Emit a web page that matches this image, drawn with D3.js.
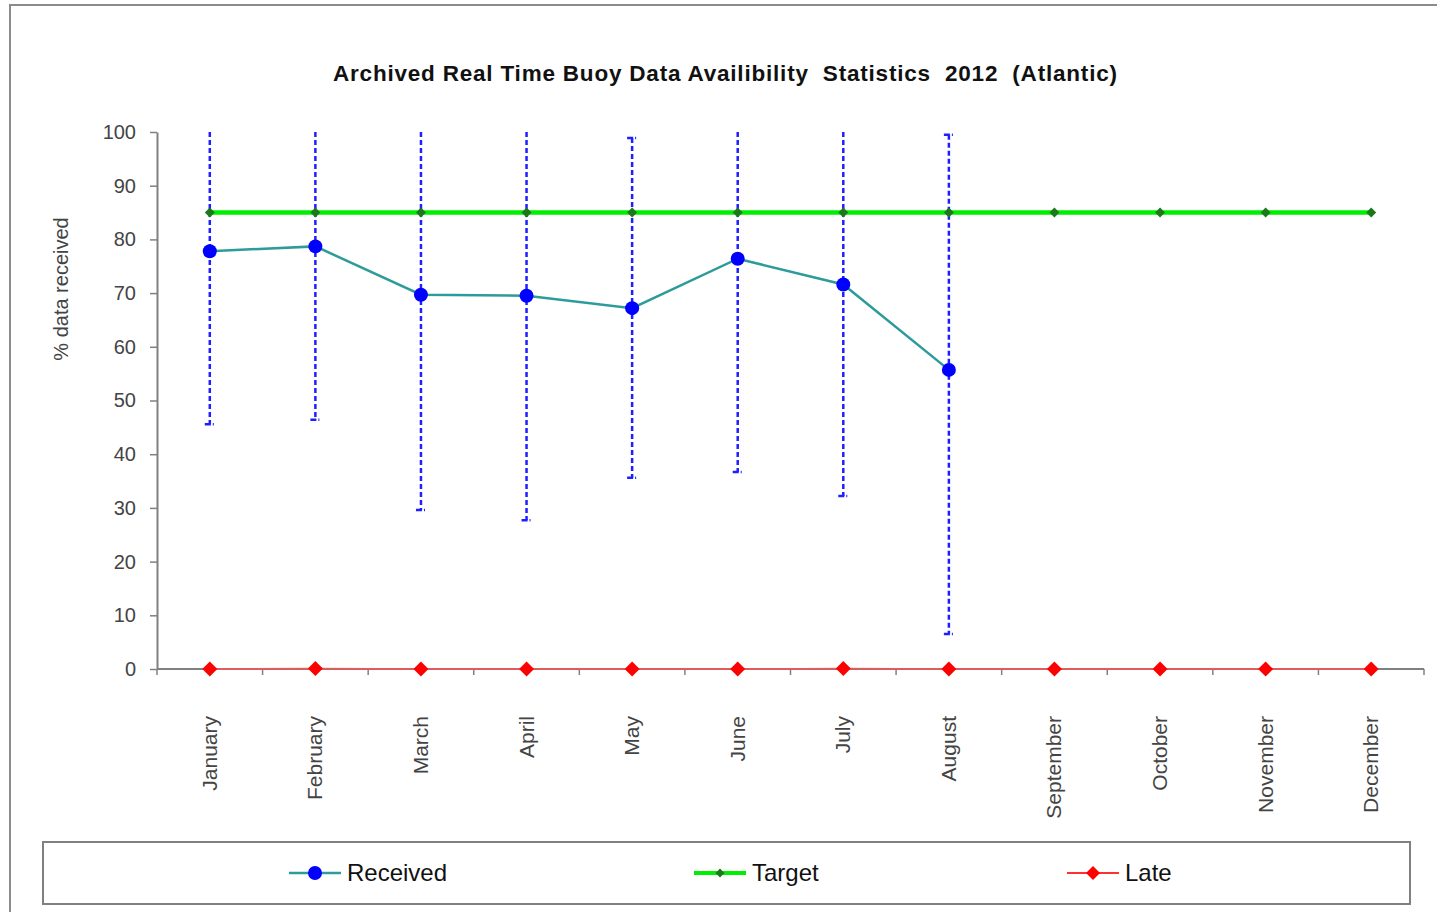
<!DOCTYPE html>
<html>
<head>
<meta charset="utf-8">
<script src="https://cdn.jsdelivr.net/npm/d3@7"></script>
<style>
  body { margin: 0; background: #fff; }
  svg { display: block; font-family: "Liberation Sans", Arial, sans-serif; }
</style>
</head>
<body>
<svg id="chart" width="1437" height="912"></svg>
<script>
const months = ['January', 'February', 'March', 'April', 'May', 'June',
    'July', 'August', 'September', 'October', 'November', 'December'];
const received = [77.8, 78.7, 69.7, 69.5, 67.2, 76.4, 71.6, 55.7];
const receivedMax = [100, 100, 100, 100, 98.9, 100, 100, 99.5];
const receivedMin = [45.6, 46.4, 29.6, 27.7, 35.6, 36.7, 32.2, 6.5];
const target = [85, 85, 85, 85, 85, 85, 85, 85, 85, 85, 85, 85];
const late = [0, 0.1, 0, 0, 0, 0, 0.1, 0, 0, 0, 0, 0];
const yTicks = [0, 10, 20, 30, 40, 50, 60, 70, 80, 90, 100];

const svg = d3.select('#chart');

// square diamond, r = half width
const diamondPath = r => `M0,${-r}L${r},0L0,${r}L${-r},0Z`;

// outer chart frame
svg.append('rect')
    .attr('x', 10).attr('y', 5)
    .attr('width', 1440).attr('height', 930)
    .attr('fill', 'none')
    .attr('stroke', '#8c8c8c')
    .attr('stroke-width', 2);

const plot = { left: 157, right: 1424, top: 132, bottom: 669 };

const x = d3.scaleBand()
    .domain(months)
    .range([plot.left, plot.right]);

const y = d3.scaleLinear()
    .domain([0, 100])
    .range([plot.bottom, plot.top]);

const cx = m => x(m) + x.bandwidth() / 2;

svg.append('text')
    .attr('x', 725).attr('y', 81)
    .attr('text-anchor', 'middle')
    .attr('font-size', 22.5)
    .attr('font-weight', 'bold')
    .attr('fill', '#111')
    .attr('textLength', 784)
    .attr('lengthAdjust', 'spacing')
    .style('white-space', 'pre')
    .text('Archived Real Time Buoy Data Availibility  Statistics  2012  (Atlantic)');

// y axis
const yAxis = svg.append('g')
    .attr('transform', `translate(${plot.left},0)`)
    .call(d3.axisLeft(y).tickValues(yTicks).tickSize(7).tickPadding(14).tickSizeOuter(0));
yAxis.select('.domain').attr('stroke', '#808080').attr('stroke-width', 2);
yAxis.selectAll('.tick line').attr('stroke', '#808080').attr('stroke-width', 1.5);
yAxis.selectAll('.tick text')
    .attr('font-size', 20)
    .attr('fill', '#444')
    .attr('font-family', '"Liberation Sans", Arial, sans-serif');

svg.append('text')
    .attr('transform', 'translate(68,289) rotate(-90)')
    .attr('text-anchor', 'middle')
    .attr('font-size', 20)
    .attr('fill', '#444')
    .text('% data received');

// x axis with ticks at band boundaries
const xAxisG = svg.append('g');
xAxisG.append('line')
    .attr('x1', plot.left).attr('x2', plot.right)
    .attr('y1', plot.bottom).attr('y2', plot.bottom)
    .attr('stroke', '#808080').attr('stroke-width', 2);
const bounds = months.map(m => x(m)).concat([plot.right]);
xAxisG.selectAll('line.tk')
    .data(bounds)
    .enter().append('line')
    .attr('class', 'tk')
    .attr('x1', d => d).attr('x2', d => d)
    .attr('y1', plot.bottom).attr('y2', plot.bottom + 6)
    .attr('stroke', '#808080').attr('stroke-width', 1.5);
xAxisG.selectAll('text')
    .data(months)
    .enter().append('text')
    .attr('transform', d => `translate(${cx(d) + 7},716) rotate(-90)`)
    .attr('text-anchor', 'end')
    .attr('font-size', 21)
    .attr('fill', '#444')
    .text(d => d);

// error bars
const errData = received.map((v, i) => ({ m: months[i], lo: receivedMin[i], hi: receivedMax[i] }));
const err = svg.append('g').attr('stroke', '#1f1fff').attr('stroke-width', 2.5)
    .attr('stroke-dasharray', '5,3');
err.selectAll('line.bar')
    .data(errData)
    .enter().append('line')
    .attr('x1', d => cx(d.m)).attr('x2', d => cx(d.m))
    .attr('y1', d => y(d.hi)).attr('y2', d => y(d.lo));
err.selectAll('line.lo')
    .data(errData)
    .enter().append('line')
    .attr('stroke-dasharray', '6,2')
    .attr('x1', d => cx(d.m) - 5).attr('x2', d => cx(d.m) + 4)
    .attr('y1', d => y(d.lo)).attr('y2', d => y(d.lo));
err.selectAll('line.hi')
    .data(errData.filter(d => d.hi < 99.9))
    .enter().append('line')
    .attr('stroke-dasharray', '6,2')
    .attr('x1', d => cx(d.m) - 5).attr('x2', d => cx(d.m) + 4)
    .attr('y1', d => y(d.hi)).attr('y2', d => y(d.hi));

const line = d3.line().x(d => cx(d.m)).y(d => y(d.v));

// target line
const tData = target.map((v, i) => ({ m: months[i], v }));
svg.append('path')
    .datum(tData)
    .attr('d', line)
    .attr('fill', 'none')
    .attr('stroke', '#00ee00')
    .attr('stroke-width', 4.5);
svg.selectAll('path.tm')
    .data(tData)
    .enter().append('path')
    .attr('class', 'tm')
    .attr('transform', d => `translate(${cx(d.m)},${y(d.v)})`)
    .attr('d', diamondPath(5))
    .attr('fill', '#1a7a1a');

// late line
const lData = late.map((v, i) => ({ m: months[i], v }));
svg.append('path')
    .datum(lData)
    .attr('d', line)
    .attr('fill', 'none')
    .attr('stroke', '#ff5050')
    .attr('stroke-width', 1.5);
svg.selectAll('path.lm')
    .data(lData)
    .enter().append('path')
    .attr('class', 'lm')
    .attr('transform', d => `translate(${cx(d.m)},${y(d.v)})`)
    .attr('d', diamondPath(7.5))
    .attr('fill', '#ff0000');

// received line
const rData = received.map((v, i) => ({ m: months[i], v }));
svg.append('path')
    .datum(rData)
    .attr('d', line)
    .attr('fill', 'none')
    .attr('stroke', '#2e9b9b')
    .attr('stroke-width', 2.5);
svg.selectAll('circle.rm')
    .data(rData)
    .enter().append('circle')
    .attr('cx', d => cx(d.m))
    .attr('cy', d => y(d.v))
    .attr('r', 7)
    .attr('fill', '#0000ff');

// legend
svg.append('rect')
    .attr('x', 43).attr('y', 842)
    .attr('width', 1367).attr('height', 62)
    .attr('fill', 'none')
    .attr('stroke', '#808080')
    .attr('stroke-width', 2);

const legendItems = [
    { name: 'Received', x: 289, stroke: '#2e9b9b', sw: 2.5, mark: 'circle', fill: '#0000ff' },
    { name: 'Target', x: 694, stroke: '#00ee00', sw: 4, mark: 'diamond', r: 4.5, fill: '#1a7a1a' },
    { name: 'Late', x: 1067, stroke: '#ff3030', sw: 2, mark: 'diamond', r: 7, fill: '#ff0000' }
];
const ly = 873;
const lg = svg.selectAll('g.leg')
    .data(legendItems)
    .enter().append('g')
    .attr('class', 'leg')
    .attr('transform', d => `translate(${d.x},${ly})`);
lg.append('line')
    .attr('x1', 0).attr('x2', 52)
    .attr('stroke', d => d.stroke)
    .attr('stroke-width', d => d.sw);
lg.each(function (d) {
    const g = d3.select(this);
    if (d.mark === 'circle') {
        g.append('circle').attr('cx', 26).attr('r', 7).attr('fill', d.fill);
    } else {
        g.append('path')
            .attr('transform', 'translate(26,0)')
            .attr('d', diamondPath(d.r))
            .attr('fill', d.fill);
    }
});
lg.append('text')
    .attr('x', 58).attr('y', 8)
    .attr('font-size', 24)
    .attr('fill', '#111')
    .text(d => d.name);
</script>
</body>
</html>
